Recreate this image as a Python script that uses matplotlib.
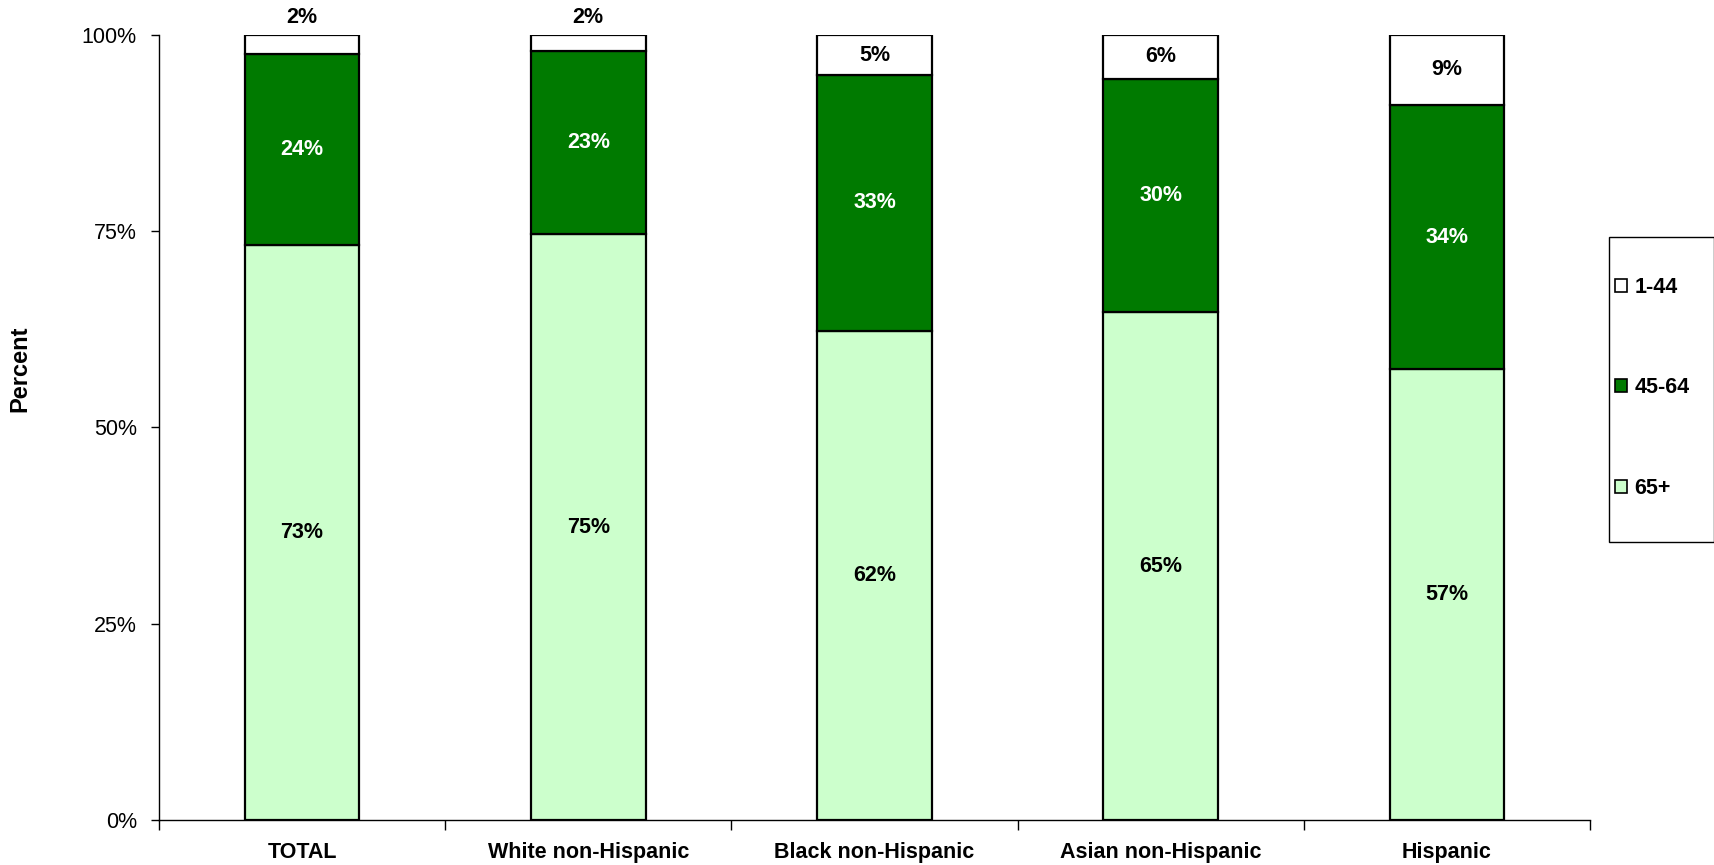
import numpy as np
import matplotlib
matplotlib.use("Agg")
import matplotlib.pyplot as plt
from matplotlib.patches import Patch, Rectangle
from matplotlib.ticker import FuncFormatter

plt.rcParams['font.family'] = ['Liberation Sans', 'DejaVu Sans']

# --- data (percent of group) ---
groups = ['TOTAL', 'White non-Hispanic', 'Black non-Hispanic', 'Asian non-Hispanic', 'Hispanic']
age_65_plus = [73.3, 74.6, 62.3, 64.7, 57.4]
age_45_64 = [24.3, 23.4, 32.6, 29.7, 33.7]
age_1_44 = [2.4, 2.0, 5.1, 5.6, 8.9]

col_65 = '#CCFFCC'
col_45 = '#007A00'
col_1 = '#FFFFFF'

fig = plt.figure(figsize=(17.15, 8.65), dpi=100)
ax = fig.add_axes([159 / 1715, 1 - 820 / 865, 1431 / 1715, 785 / 865])

x = np.arange(len(groups))
w = 0.4
b65 = np.array(age_65_plus)
b45 = np.array(age_45_64)
b1 = np.array(age_1_44)

kw = dict(width=w, edgecolor='black', linewidth=1.6, zorder=3)
ax.bar(x, b65, color=col_65, **kw)
ax.bar(x, b45, bottom=b65, color=col_45, **kw)
ax.bar(x, b1, bottom=b65 + b45, color=col_1, **kw)

# --- value labels ---
lab = dict(ha='center', va='center', fontsize=15.5, fontweight='bold', zorder=4)
for i in range(len(groups)):
    ax.text(x[i], b65[i] / 2, f"{b65[i]:.0f}%", color='black', **lab)
    ax.text(x[i], b65[i] + b45[i] / 2, f"{b45[i]:.0f}%", color='white', **lab)
    top = b65[i] + b45[i]
    if b1[i] < 3:
        # too thin to hold the label, so put it above the bar
        ax.annotate(f"{b1[i]:.0f}%", (x[i], 100), xytext=(0, 5), textcoords='offset points',
                    ha='center', va='bottom', fontsize=15.5, fontweight='bold')
    else:
        ax.text(x[i], top + b1[i] / 2, f"{b1[i]:.0f}%", color='black', **lab)

# --- axes ---
ax.set_xlim(-0.5, len(groups) - 0.5)
ax.set_ylim(0, 100)
ax.set_yticks([0, 25, 50, 75, 100])
ax.yaxis.set_major_formatter(FuncFormatter(lambda v, p: f"{v:.0f}%"))
ax.tick_params(axis='y', direction='out', length=6, width=1, labelsize=15.5, pad=10)

ax.set_xticks(np.arange(len(groups) + 1) - 0.5)
ax.set_xticklabels([])
ax.set_xticks(x, minor=True)
ax.set_xticklabels(groups, minor=True, fontsize=15.5, fontweight='bold')
ax.tick_params(axis='x', which='major', direction='out', length=7, width=1)
ax.tick_params(axis='x', which='minor', length=0, pad=16)

for s in ['top', 'right']:
    ax.spines[s].set_visible(False)
for s in ['left', 'bottom']:
    ax.spines[s].set_linewidth(1)

ax.set_ylabel('Percent', fontsize=17, fontweight='bold')
ax.yaxis.set_label_coords(-0.089, 0.575)

# --- legend ---
handles = [Patch(facecolor=col_1, edgecolor='black', linewidth=1.2, label='1-44'),
           Patch(facecolor=col_45, edgecolor='black', linewidth=1.2, label='45-64'),
           Patch(facecolor=col_65, edgecolor='black', linewidth=1.2, label='65+')]
leg = fig.legend(handles=handles, loc='center left',
                 bbox_to_anchor=(1604 / 1715, 1 - 388 / 865),
                 frameon=False, borderpad=0, handlelength=0.55, handleheight=0.55,
                 handletextpad=0.35, labelspacing=3.7,
                 prop={'size': 15.5, 'weight': 'bold'})
fig.add_artist(Rectangle((1609 / 1715, 1 - 542 / 865), 105 / 1715, 305 / 865,
                         transform=fig.transFigure, fill=False, edgecolor='black', linewidth=1))

fig.savefig('out.png', dpi=100)
